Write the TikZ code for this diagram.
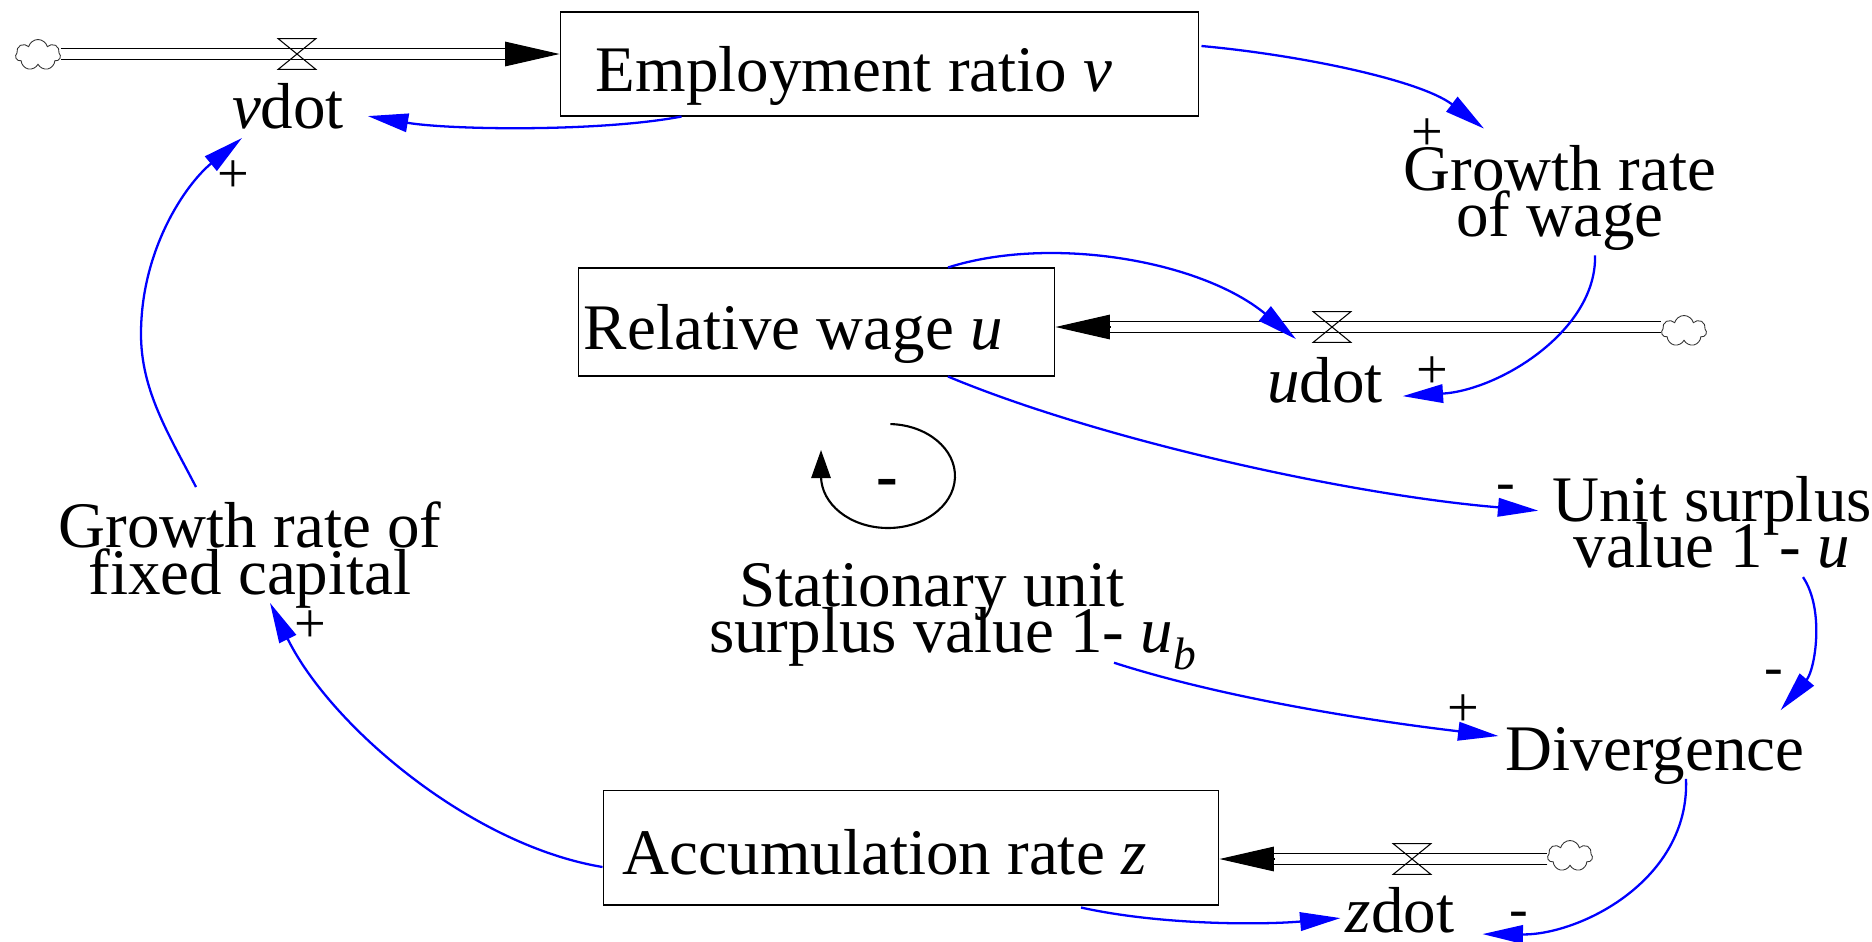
\documentclass[tikz,border=0pt]{standalone}
\usepackage{fontspec}
\setmainfont{Liberation Serif}
\usetikzlibrary{arrows.meta,shapes.symbols}
\newcommand\cldfont{\fontsize{37}{26.7}\selectfont\lineskiplimit=-40pt\relax}
\newcommand\sgnfont{\fontsize{32}{32}\selectfont}
\begin{document}
\begin{tikzpicture}[x=0.02cm,y=-0.02cm,
  stock/.style={draw,line width=0.6pt,inner sep=0pt},
  lbl/.style={font=\cldfont,inner sep=0pt,anchor=base},
  multi/.style={font=\cldfont,inner sep=0pt,anchor=north,align=center},
  sgn/.style={font=\sgnfont,inner sep=0pt},
  cld/.style={cloud,cloud puffs=7,aspect=1.5,draw=black!80,line width=0.5pt,
    minimum width=0.9cm,minimum height=0.62cm,inner sep=0pt},
  valve/.style={minimum width=0.74cm,minimum height=0.6cm,inner sep=0pt},
  pipe/.style={double,double distance=5.4pt,line width=0.6pt,shorten >=30pt},
  pipetip/.style={line width=0.6pt,-{Triangle[length=31pt,width=14pt]}},
  link/.style={blue,line width=1.3pt,-{Triangle[length=23pt,width=10.5pt]}}]
\useasboundingbox (0,0) rectangle (1872,941);
% stocks
\node[stock,minimum width=12.78cm,minimum height=2.08cm] (emp) at (879.5,64) {};
\node[lbl,anchor=base west] (emptxt) at ([shift={(36,27)}]emp.west) {Employment ratio \textit{v}};
\node[stock,minimum width=9.54cm,minimum height=2.16cm] (relw) at (816.5,322) {};
\node[lbl,anchor=base west] (relwtxt) at ([shift={(6,27)}]relw.west) {Relative wage \textit{u}};
\node[stock,minimum width=12.32cm,minimum height=2.3cm] (acc) at (911,847.5) {};
\node[lbl,anchor=base west] (acctxt) at ([shift={(20,26.5)}]acc.west) {Accumulation rate \textit{z}};
% flows
\node[cld] (cl1) at (38,55) {};
\node[cld] (cl2) at (1684,331) {};
\node[cld] (cl3) at (1570,856) {};
\node[valve] (vv) at (297,54) {};
\node[valve] (vu) at (1332,327) {};
\node[valve] (vz) at (1412,859) {};
\draw[pipe] (cl1.east |- vv) -- (vv -| emp.west);
\draw[pipetip] (vv -| emp.west) ++(-31pt,0) -- (vv -| emp.west);
\draw[pipe] (cl2.west |- vu) -- (vu -| relw.east);
\draw[pipetip] (vu -| relw.east) ++(31pt,0) -- (vu -| relw.east);
\draw[pipe] (cl3.west |- vz) -- (vz -| acc.east);
\draw[pipetip] (vz -| acc.east) ++(31pt,0) -- (vz -| acc.east);
\foreach \v in {vv,vu,vz}
  \draw[line width=0.6pt] (\v.north west) -- (\v.north east) -- (\v.south west) -- (\v.south east) -- cycle;
% auxiliaries
\node[lbl] (vdot) at (288,128) {\textit{v}dot};
\node[lbl] (udot) at (1325,402) {\textit{u}dot};
\node[lbl] (zdot) at (1400,932) {\textit{z}dot};
\node[lbl] (div) at (1655,770) {Divergence};
\node[multi] (grw) at (1560,144.6) {Growth rate\\of wage};
\node[multi] (usv) at (1712,475.6) {Unit surplus\\value 1 - \textit{u}};
\node[multi] (stat) at (953,562.6) {Stationary unit\hspace*{24pt}\\surplus value 1- \textit{u}\textsubscript{\textit{b}}};
\node[multi] (gfc) at (250,501.6) {Growth rate of\\fixed capital};
% links
\draw[link] ([shift={(122,0)}]emp.south west) .. controls (600,132) and (450,130) .. ([shift={(23.5,10.3)}]vdot.east);
\draw[link] ([shift={(-54,-14.6)}]gfc.north) .. controls (168,433) and (141,390) .. (141,334)
  .. controls (141,250) and (185,185) .. ([shift={(-46,9)}]vdot.south);
\draw[link] ([shift={(2,-18)}]emp.east) .. controls (1300,55) and (1420,80) .. ([shift={(-76,-16)}]grw.north);
\draw[link] ([shift={(35,4)}]grw.south) .. controls (1597,330) and (1500,390) .. ([shift={(19.5,16.3)}]udot.east);
\draw[link] ([shift={(131.5,0)}]relw.north) .. controls (1050,235) and (1200,260) .. ([shift={(-29,-17.4)}]udot.north);
\draw[link] ([shift={(131.5,0)}]relw.south) .. controls (1100,440) and (1350,495) .. ([shift={(-13.5,-11.7)}]usv.west);
\draw[link] ([shift={(91,8)}]usv.south) .. controls (1825,610) and (1815,670) .. ([shift={(-24,-16.4)}]div.north east);
\draw[link] ([shift={(161,-7.5)}]stat.south) .. controls (1230,700) and (1380,722) .. ([shift={(-7,-19.5)}]div.west);
\draw[link] ([shift={(31,-5.5)}]div.south) .. controls (1690,880) and (1580,935) .. ([shift={(28,24.3)}]zdot.east);
\draw[link] ([shift={(170,2)}]acc.south) .. controls (1160,925) and (1260,925) .. ([shift={(-5,8.3)}]zdot.west);
\draw[link] ([shift={(0,19.5)}]acc.west) .. controls (470,845) and (330,725) .. ([shift={(20,-6)}]gfc.south);
% polarities
\foreach \x/\y/\s [count=\i] in {233/177/+,1427/135/+,1432/373/+,1506/493/-,1774/678/-,1463/711/+,310/627/+,1519/920/-}
  \node[sgn] (sg\i) at (\x,\y) {\s};
% loop
\coordinate (loopc) at (888,476);
\draw[line width=1.2pt,-{Triangle[length=16pt,width=11pt]}] ([shift={(88:1.34cm and 1.04cm)}]loopc)
  arc[start angle=88,end angle=-180,x radius=1.34cm,y radius=1.04cm] -- ++(0,-26);
\node[font=\cldfont\bfseries,inner sep=0pt] (loopsgn) at (887,488) {-};
\end{tikzpicture}
\end{document}
